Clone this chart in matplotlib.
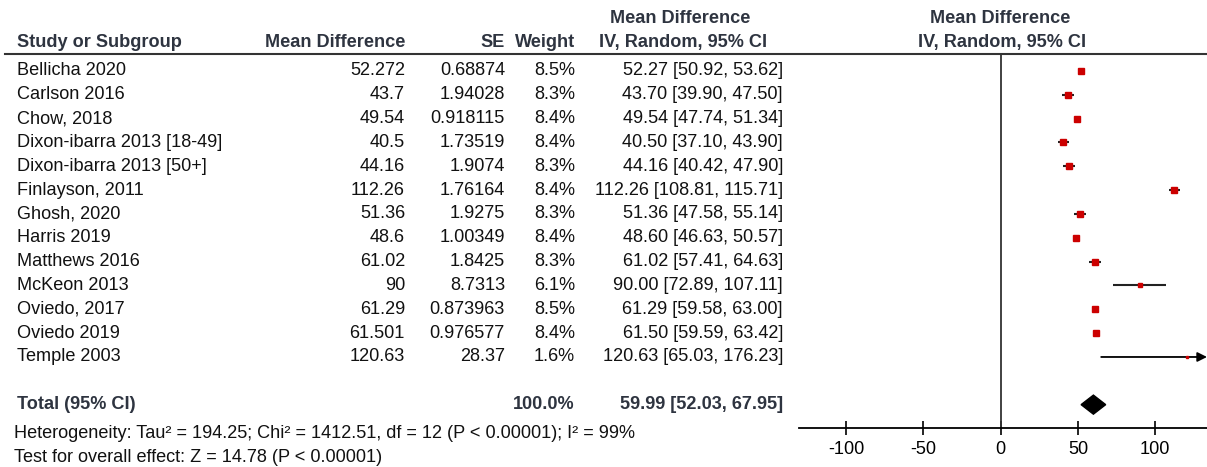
import matplotlib.pyplot as plt
from matplotlib.transforms import blended_transform_factory
from matplotlib.lines import Line2D
from matplotlib.patches import Polygon

plt.rcParams['font.family'] = ['Liberation Sans', 'DejaVu Sans']
plt.rcParams['axes.unicode_minus'] = False

studies = ["Bellicha 2020", "Carlson 2016", "Chow, 2018", "Dixon-ibarra 2013 [18-49]",
           "Dixon-ibarra 2013 [50+]", "Finlayson, 2011", "Ghosh, 2020", "Harris 2019",
           "Matthews 2016", "McKeon 2013", "Oviedo, 2017", "Oviedo 2019", "Temple 2003"]
mean_diff = [52.272, 43.7, 49.54, 40.5, 44.16, 112.26, 51.36, 48.6, 61.02, 90, 61.29, 61.501, 120.63]
se = [0.68874, 1.94028, 0.918115, 1.73519, 1.9074, 1.76164, 1.9275, 1.00349, 1.8425,
      8.7313, 0.873963, 0.976577, 28.37]
weight = [8.5, 8.3, 8.4, 8.4, 8.3, 8.4, 8.3, 8.4, 8.3, 6.1, 8.5, 8.4, 1.6]
ci_lo = [50.92, 39.90, 47.74, 37.10, 40.42, 108.81, 47.58, 46.63, 57.41, 72.89, 59.58, 59.59, 65.03]
ci_hi = [53.62, 47.50, 51.34, 43.90, 47.90, 115.71, 55.14, 50.57, 64.63, 107.11, 63.00, 63.42, 176.23]
total = 59.99
total_lo = 52.03
total_hi = 67.95
xticks = [-100, -50, 0, 50, 100]

W, H = 1207, 467
fig = plt.figure(figsize=(W / 100, H / 100), dpi=100)
ax = fig.add_axes([799 / W, (H - 428) / H, 408 / W, 374 / H])
xmin, xmax = -130.5, 133.5
ax.set_xlim(xmin, xmax)
ax.set_ylim(14.98, -0.713)

hdr = '#2e3440'
txt = '#111111'
red = '#cc0000'
fs = 13.1

tr = blended_transform_factory(fig.transFigure, ax.transData)
def put(x, y, s, ha='left', bold=False, color=txt):
    ax.text(x / W, y, s, transform=tr, ha=ha, va='center', fontsize=fs,
            fontweight='bold' if bold else 'normal', color=color, clip_on=False)

# headers
put(17, -1.175, "Study or Subgroup", bold=True, color=hdr)
put(405, -1.175, "Mean Difference", ha='right', bold=True, color=hdr)
put(505, -1.175, "SE", ha='right', bold=True, color=hdr)
put(575, -1.175, "Weight", ha='right', bold=True, color=hdr)
put(680, -2.22, "Mean Difference", ha='center', bold=True, color=hdr)
put(683, -1.175, "IV, Random, 95% CI", ha='center', bold=True, color=hdr)
put(1000, -2.22, "Mean Difference", ha='center', bold=True, color=hdr)
put(1002, -1.175, "IV, Random, 95% CI", ha='center', bold=True, color=hdr)
fig.add_artist(Line2D([5 / W, 1], [(H - 54) / H] * 2, color='#333333', lw=1.5))

for i, name in enumerate(studies):
    put(17, i, name)
    put(405, i, f"{mean_diff[i]:g}", ha='right')
    put(505, i, f"{se[i]:g}", ha='right')
    put(575, i, f"{weight[i]:.1f}%", ha='right')
    put(783, i, f"{mean_diff[i]:.2f} [{ci_lo[i]:.2f}, {ci_hi[i]:.2f}]", ha='right')
    hi = min(ci_hi[i], xmax)
    if ci_hi[i] > xmax:
        ax.annotate('', xy=(hi, i), xytext=(ci_lo[i], i), annotation_clip=False,
                    arrowprops=dict(arrowstyle='-|>', color='black', lw=1.3,
                                    mutation_scale=14, shrinkA=0, shrinkB=0))
    else:
        ax.plot([ci_lo[i], hi], [i, i], color='#222222', lw=1.5, solid_capstyle='butt')
    ax.plot(mean_diff[i], i, marker='s', color=red, ms=1.3 * weight[i] ** 0.5,
            mec=red, linestyle='none', zorder=3)

ty = len(studies) + 1
put(17, ty, "Total (95% CI)", bold=True, color=hdr)
put(575, ty, "100.0%", ha='right', bold=True, color=hdr)
put(783, ty, f"{total:.2f} [{total_lo:.2f}, {total_hi:.2f}]", ha='right', bold=True, color=hdr)
ax.add_patch(Polygon([[total_lo, ty], [total, ty - 0.4], [total_hi, ty], [total, ty + 0.4]],
                     closed=True, color='black'))
put(14, 15.19, "Heterogeneity: Tau\u00b2 = 194.25; Chi\u00b2 = 1412.51, df = 12 (P < 0.00001); I\u00b2 = 99%")
put(14, 16.2, "Test for overall effect: Z = 14.78 (P < 0.00001)")

ax.axvline(0, color='#333333', lw=1.3)
for s in ['top', 'right', 'left']:
    ax.spines[s].set_visible(False)
ax.spines['bottom'].set_linewidth(1.3)
ax.set_yticks([])
ax.set_xticks(xticks)
ax.tick_params(axis='x', direction='inout', length=10, width=1.2, labelsize=fs, pad=4)

fig.savefig('out.png', dpi=100)
